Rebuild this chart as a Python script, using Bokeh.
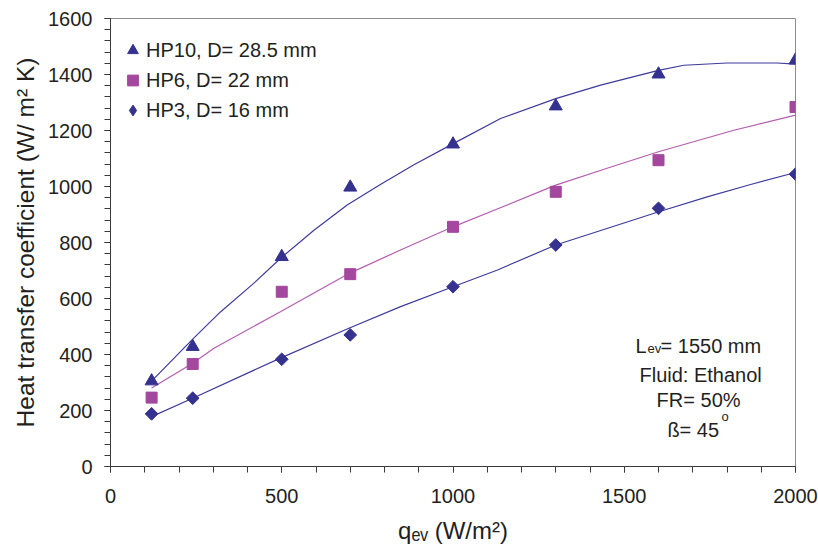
import math
from bokeh.plotting import figure
from bokeh.models import Label, Range1d, Legend, LegendItem, SingleIntervalTicker
from bokeh.embed import file_html
from bokeh.resources import INLINE

# ---- data ----
q_ev = [120, 240, 500, 700, 1000, 1300, 1600, 2000]
hp10_h = [305, 428, 749, 997, 1151, 1287, 1401, 1451]
hp6_h = [246, 366, 624, 687, 856, 981, 1094, 1284]
hp3_h = [188, 244, 383, 470, 642, 791, 922, 1044]

# trend lines as drawn in the reference
hp10_fit_q = [120, 240, 321, 418, 496, 594, 691, 788, 886, 1002, 1139, 1300, 1431, 1600, 1674, 1800, 1946, 2000]
hp10_fit_h = [305, 455, 552, 654, 743, 844, 934, 1007, 1078, 1154, 1243, 1314, 1362, 1415, 1433, 1441, 1441, 1437]
hp6_fit_q = [120, 240, 302, 496, 696, 850, 1000, 1140, 1300, 1450, 1600, 1820, 2000]
hp6_fit_h = [280, 369, 422, 553, 689, 775, 856, 925, 1005, 1065, 1124, 1201, 1255]
hp3_fit_q = [120, 240, 496, 696, 847, 1000, 1130, 1300, 1601, 1742, 1869, 2000]
hp3_fit_h = [178, 244, 387, 494, 571, 642, 702, 791, 910, 963, 1007, 1050]

labels = ["HP10, D= 28.5 mm", "HP6, D= 22 mm", "HP3, D= 16 mm"]

NAVY = "#35318F"
NAVY_LINE = "#3D3B9C"
MAG = "#A4479E"
MAG_LINE = "#B35DB0"
FONT = "Liberation Sans"
TXT = "#231F20"

p = figure(width=818, height=546, output_backend="svg", toolbar_location=None,
           x_range=Range1d(0, 2000), y_range=Range1d(0, 1600),
           min_border_left=110, min_border_right=23, min_border_top=18, min_border_bottom=79)
p.background_fill_color = "white"
p.border_fill_color = "white"
p.outline_line_color = "#8C8C8C"
p.outline_line_width = 1
p.xgrid.visible = False
p.ygrid.visible = False

for ax in (p.xaxis[0], p.yaxis[0]):
    ax.axis_line_color = "#3A3A3A"
    ax.major_tick_line_color = "#3A3A3A"
    ax.minor_tick_line_color = "#3A3A3A"
    ax.major_tick_in = 0
    ax.major_tick_out = 6
    ax.minor_tick_in = 0
    ax.minor_tick_out = 6
    ax.major_label_text_font = FONT
    ax.major_label_text_font_size = "20px"
    ax.major_label_text_color = TXT
    ax.axis_label_text_font = FONT
    ax.axis_label_text_font_size = "24px"
    ax.axis_label_text_font_style = "normal"
    ax.axis_label_text_color = TXT

p.xaxis.major_label_standoff = 16
p.yaxis.major_label_standoff = 12

p.xaxis.ticker = SingleIntervalTicker(interval=500, num_minor_ticks=5)
p.yaxis.ticker = SingleIntervalTicker(interval=200, num_minor_ticks=5)

p.yaxis.axis_label = "Heat transfer coefficient (W/ m² K)"
p.yaxis.axis_label_standoff = 6
p.yaxis.axis_label_text_font_size = "24.5px"
p.xaxis.axis_label = "qₑᵥ (W/m²)"
p.xaxis.axis_label_standoff = 11
p.xaxis.axis_label_text_line_height = 1.0

# trend lines
p.line(hp10_fit_q, hp10_fit_h, line_color=NAVY_LINE, line_width=1.2)
p.line(hp6_fit_q, hp6_fit_h, line_color=MAG_LINE, line_width=1.2)
p.line(hp3_fit_q, hp3_fit_h, line_color=NAVY_LINE, line_width=1.2)

# markers
r10 = p.scatter(q_ev, hp10_h, marker="triangle", size=13, fill_color=NAVY, line_color=NAVY)
r6 = p.scatter(q_ev, hp6_h, marker="square", size=11, fill_color=MAG, line_color=MAG)
# diamond glyph (used for the legend symbol), covered by the square-ish diamonds drawn on top
r3_leg = p.scatter(q_ev, hp3_h, marker="diamond", size=8, fill_color=NAVY, line_color=NAVY)
r3 = p.scatter(q_ev, hp3_h, marker="square", angle=math.pi / 4, size=9, fill_color=NAVY, line_color=NAVY)

legend = Legend(items=[LegendItem(label=labels[0], renderers=[r10]),
                       LegendItem(label=labels[1], renderers=[r6]),
                       LegendItem(label=labels[2], renderers=[r3_leg])],
                location=(9, 341))
legend.border_line_color = None
legend.background_fill_alpha = 0
legend.margin = 0
legend.padding = 0
legend.spacing = 0
legend.glyph_width = 27
legend.glyph_height = 30
legend.label_height = 30
legend.label_standoff = 0
legend.label_text_font = FONT
legend.label_text_font_size = "20px"
legend.label_text_color = TXT
p.add_layout(legend)

def lab(x, y, text, size="20px", align="left"):
    p.add_layout(Label(x=x, y=y, text=text, text_font=FONT, text_font_size=size,
                       text_color=TXT, text_align=align, text_baseline="alphabetic"))

# annotation block
lab(1533, 430.6, "L")
lab(1568, 420, "ev", "13px")
lab(1606, 430.6, "= 1550 mm")
lab(1723, 327, "Fluid: Ethanol", align="center")
lab(1717, 238, "FR= 50%", align="center")
lab(1626, 131, "ß= 45")
lab(1784, 177, "o", "13px")

open("out.html", "w").write(file_html(p, INLINE))
